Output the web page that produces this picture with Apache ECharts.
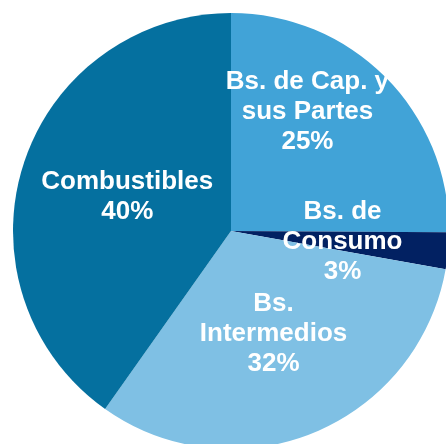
<!DOCTYPE html>
<html>
<head>
<meta charset="utf-8">
<script src="https://cdn.jsdelivr.net/npm/echarts@6/dist/echarts.min.js"></script>
<style>
    html, body { margin: 0; padding: 0; background: #fff; }
    #chart { width: 446px; height: 444px; }
</style>
</head>
<body>
<div id="chart"></div>
<script>
    // slices, clockwise from 12 o'clock
    var categories = ['Bs. de Cap. y\nsus Partes', 'Bs. de\nConsumo', 'Bs.\nIntermedios', 'Combustibles'];
    var shares = [25.1, 2.7, 32.0, 40.2];

    var colors = ['#41a3d7', '#022162', '#7fc0e4', '#05709f'];
    var labelOffsets = [[-3, -40], [0, 1], [0, -1], [3, 0]];

    var chart = echarts.init(document.getElementById('chart'));

    var seriesData = [];
    categories.forEach(function (name, i) {
        seriesData.push({
            name: name,
            value: shares[i],
            itemStyle: { color: colors[i] },
            label: { offset: labelOffsets[i] }
        });
    });

    chart.setOption({
        animation: false,
        series: [{
            type: 'pie',
            center: [231, 231],
            radius: 218,
            startAngle: 90,
            clockwise: true,
            avoidLabelOverlap: false,
            itemStyle: { borderWidth: 0 },
            label: {
                position: 'inside',
                color: '#fff',
                fontFamily: 'Liberation Sans, Arial, sans-serif',
                fontWeight: 'bold',
                fontSize: 26,
                lineHeight: 30,
                align: 'center',
                formatter: function (p) {
                    return p.name + '\n' + Math.round(p.percent) + '%';
                }
            },
            labelLayout: { hideOverlap: false },
            labelLine: { show: false },
            emphasis: { disabled: true },
            data: seriesData
        }]
    });
</script>
</body>
</html>
